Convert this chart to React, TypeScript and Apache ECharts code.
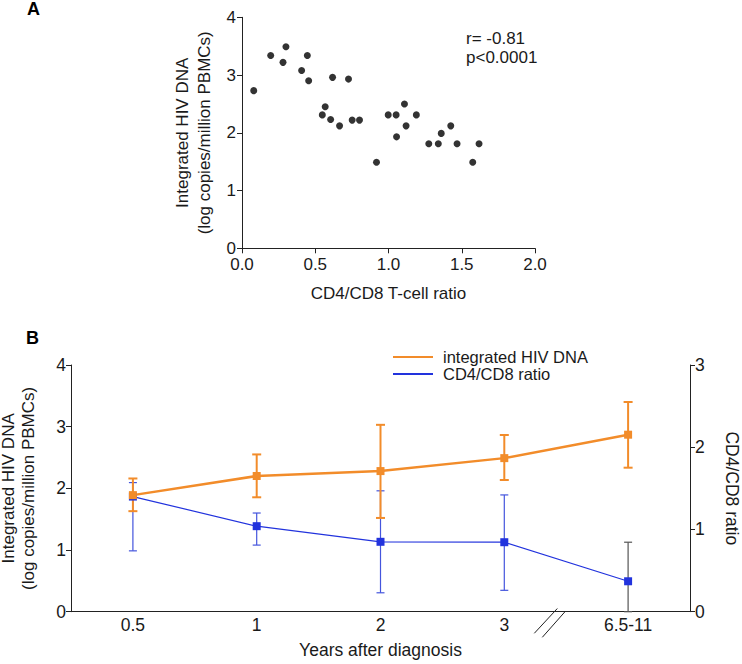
import React, { useEffect, useRef } from 'react';
import * as echarts from 'echarts';

// Panel A: scatter
const scatterRatio = [0.08, 0.196, 0.28, 0.30, 0.407, 0.446, 0.455, 0.548, 0.568, 0.605, 0.618, 0.666, 0.727, 0.752, 0.802, 0.918, 0.998, 1.052, 1.055, 1.109, 1.12, 1.19, 1.275, 1.34, 1.36, 1.425, 1.468, 1.575, 1.618];
const scatterDNA = [2.73, 3.34, 3.22, 3.49, 3.08, 3.34, 2.90, 2.31, 2.45, 2.23, 2.96, 2.12, 2.93, 2.22, 2.22, 1.49, 2.31, 2.31, 1.93, 2.50, 2.12, 2.31, 1.81, 1.81, 1.99, 2.12, 1.81, 1.49, 1.81];
const annotation = ['r= -0.81', 'p<0.0001'];

// Panel B: time course
const years = ['0.5', '1', '2', '3', '6.5-11'];
const dnaMean = [1.89, 2.2, 2.28, 2.49, 2.87];
const dnaLow = [1.63, 1.855, 1.52, 2.135, 2.335];
const dnaHigh = [2.16, 2.55, 3.03, 2.865, 3.4];
const ratioMean = [1.4, 1.04, 0.85, 0.845, 0.37];
const ratioLow = [0.74, 0.81, 0.23, 0.26, 0];
const ratioHigh = [1.57, 1.2, 1.47, 1.42, 0.845];

const FONT = '"Liberation Sans", Arial, Helvetica, sans-serif';
const TXT = '#1a1a1a';
const AX = '#222';
const ORANGE = '#f28c2a';
const BLUE = '#2233dd';
const BLUE_BAR = '#4455dd';
const GRAY_BAR = '#555555';

const yTitle = 'Integrated HIV DNA\n(log copies/million PBMCs)';

function errorRenderer(colorOf: (i: number) => string, width: number, capHalf: number) {
  return (params: any, api: any) => {
    const x = api.value(0);
    const pLo = api.coord([x, api.value(1)]);
    const pHi = api.coord([x, api.value(2)]);
    const cx = pLo[0];
    const style = { stroke: colorOf(params.dataIndex), lineWidth: width, fill: null };
    return {
      type: 'group',
      children: [
        { type: 'line', shape: { x1: cx, y1: pLo[1], x2: cx, y2: pHi[1] }, style },
        { type: 'line', shape: { x1: cx - capHalf, y1: pHi[1], x2: cx + capHalf, y2: pHi[1] }, style },
        { type: 'line', shape: { x1: cx - capHalf, y1: pLo[1], x2: cx + capHalf, y2: pLo[1] }, style },
      ],
    };
  };
}

export default function App() {
  const ref = useRef<HTMLDivElement>(null);

  useEffect(() => {
    if (!ref.current) return;
    const chart = echarts.init(ref.current, undefined, { renderer: 'svg' });

    const axisLine = { show: true, lineStyle: { color: AX, width: 1 } };
    const axisTick = { show: true, length: 5, lineStyle: { color: AX, width: 1 } };
    const label = (size: number, margin: number, lh?: number) => ({ color: TXT, fontSize: size, fontFamily: FONT, margin, lineHeight: lh ?? size });
    const nameStyle = (size: number, lh: number) => ({ color: TXT, fontSize: size, fontFamily: FONT, lineHeight: lh });

    const option: any = {
      animation: false,
      backgroundColor: '#ffffff',
      grid: [
        { left: 242, top: 17.3, width: 293, height: 231, containLabel: false, outerBoundsMode: 'none' },
        { left: 71, top: 365, width: 619, height: 246.7, containLabel: false, outerBoundsMode: 'none' },
      ],
      xAxis: [
        {
          gridIndex: 0, type: 'value', min: 0, max: 2, interval: 0.5,
          axisLine, axisTick, splitLine: { show: false },
          axisLabel: { ...label(17, 8.5, 16), formatter: (v: number) => v.toFixed(1) },
          name: 'CD4/CD8 T-cell ratio', nameLocation: 'middle', nameGap: 36.5,
          nameTextStyle: nameStyle(17, 17),
        },
        {
          gridIndex: 1, type: 'category', data: years, boundaryGap: true,
          axisLine, axisTick: { show: false }, splitLine: { show: false },
          axisLabel: label(17.5, 5),
          name: 'Years after diagnosis', nameLocation: 'middle', nameGap: 30,
          nameTextStyle: nameStyle(17.5, 17.5),
        },
      ],
      yAxis: [
        {
          gridIndex: 0, type: 'value', min: 0, max: 4, interval: 1,
          axisLine, axisTick, splitLine: { show: false },
          axisLabel: label(17, 6, 15),
          name: yTitle, nameLocation: 'middle', nameRotate: 90, nameGap: 27,
          nameTextStyle: nameStyle(17, 21.5),
        },
        {
          gridIndex: 1, type: 'value', position: 'left', min: 0, max: 4, interval: 1,
          axisLine, axisTick, splitLine: { show: false },
          axisLabel: label(17.5, 5),
          name: yTitle, nameLocation: 'middle', nameRotate: 90, nameGap: 33,
          nameTextStyle: nameStyle(17, 20),
        },
        {
          gridIndex: 1, type: 'value', position: 'right', min: 0, max: 3, interval: 1,
          axisLine, axisTick, splitLine: { show: false },
          axisLabel: label(17.5, 5),
          name: 'CD4/CD8 ratio', nameLocation: 'middle', nameRotate: -90, nameGap: 33.5,
          nameTextStyle: nameStyle(17.5, 17.5),
        },
      ],
      legend: {
        orient: 'vertical', left: 393, top: 348.5, padding: 0,
        itemWidth: 40, itemHeight: 2, itemGap: 0, icon: 'rect',
        textStyle: { color: TXT, fontSize: 16.5, fontFamily: FONT, lineHeight: 16, padding: [0, 0, 0, 5] },
        data: ['integrated HIV DNA', 'CD4/CD8 ratio'],
      },
      graphic: [
        { type: 'text', left: 27, top: 0, style: { text: 'A', fontSize: 18, fontWeight: 'bold', fontFamily: FONT, fill: '#000' } },
        { type: 'text', left: 26, top: 329, style: { text: 'B', fontSize: 18, fontWeight: 'bold', fontFamily: FONT, fill: '#000' } },
        {
          type: 'text', left: 466, top: 28.5,
          style: { text: annotation.join('\n'), fontSize: 17, lineHeight: 19, fontFamily: FONT, fill: TXT },
        },
        { type: 'line', shape: { x1: 534.3, y1: 633.3, x2: 557.3, y2: 608.5 }, style: { stroke: AX, lineWidth: 1 } },
        { type: 'line', shape: { x1: 542.3, y1: 637.3, x2: 565, y2: 611.7 }, style: { stroke: AX, lineWidth: 1 } },
      ],
      series: [
        {
          name: 'scatter', type: 'scatter', xAxisIndex: 0, yAxisIndex: 0,
          symbol: 'circle', symbolSize: 7, itemStyle: { color: '#000' },
          data: scatterRatio.map((x, i) => [x, scatterDNA[i]]),
        },
        {
          name: 'ratio-sd', type: 'custom', xAxisIndex: 1, yAxisIndex: 2,
          renderItem: errorRenderer((i) => (i === years.length - 1 ? GRAY_BAR : BLUE_BAR), 1.2, 4),
          encode: { x: 0, y: [1, 2] },
          data: years.map((_, i) => [i, ratioLow[i], ratioHigh[i]]),
        },
        {
          name: 'CD4/CD8 ratio', type: 'line', xAxisIndex: 1, yAxisIndex: 2,
          symbol: 'rect', symbolSize: 8, showSymbol: true,
          itemStyle: { color: BLUE }, lineStyle: { color: BLUE, width: 1.2 },
          data: ratioMean,
        },
        {
          name: 'dna-sd', type: 'custom', xAxisIndex: 1, yAxisIndex: 1,
          renderItem: errorRenderer(() => ORANGE, 2, 4.5),
          encode: { x: 0, y: [1, 2] },
          data: years.map((_, i) => [i, dnaLow[i], dnaHigh[i]]),
        },
        {
          name: 'integrated HIV DNA', type: 'line', xAxisIndex: 1, yAxisIndex: 1,
          symbol: 'rect', symbolSize: 8, showSymbol: true,
          itemStyle: { color: ORANGE }, lineStyle: { color: ORANGE, width: 2.5 },
          data: dnaMean,
        },
      ],
    };

    chart.setOption(option);
    return () => chart.dispose();
  }, []);

  return (
    <div
      ref={ref}
      style={{ position: 'absolute', left: 0, top: 0, width: 742, height: 664, background: '#fff' }}
    />
  );
}
